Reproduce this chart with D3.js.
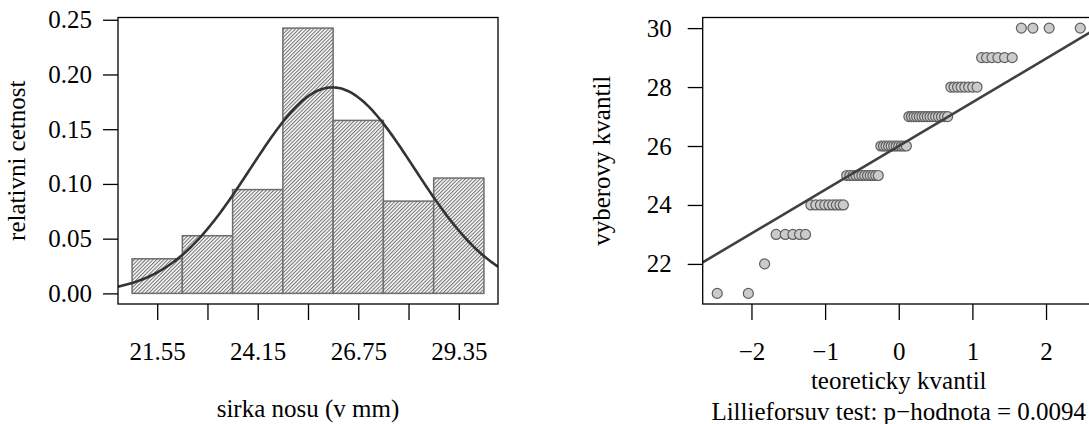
<!DOCTYPE html>
<html>
<head>
<meta charset="utf-8">
<script src="https://cdn.jsdelivr.net/npm/d3@7"></script>
<style>
  body { margin: 0; background: #fff; }
  svg { display: block; overflow: hidden; }
  text { font-family: "Liberation Serif", "Times New Roman", serif; font-size: 25px; fill: #000; }
</style>
</head>
<body>
<div id="chart"></div>
<script>
const W = 1089, H = 424;

// sample: nose width (mm) and how many times each value occurs
const noseValues = [21, 22, 23, 24, 25, 26, 27, 28, 29, 30];
const noseCounts = [2, 1, 5, 9, 12, 11, 15, 8, 6, 4];

// histogram bins
const binEdges = [20.9, 22.2, 23.5, 24.8, 26.1, 27.4, 28.7, 30.0];
const binCounts = [3, 5, 9, 23, 15, 8, 10];

const histTickValues = [21.55, 22.85, 24.15, 25.45, 26.75, 28.05, 29.35];
const histTickLabels = ["21.55", "", "24.15", "", "26.75", "", "29.35"];
const histYTicks = [0, 0.05, 0.10, 0.15, 0.20, 0.25];

const qqXTicks = [-2, -1, 0, 1, 2];
const qqYTicks = [22, 24, 26, 28, 30];
const pValue = "0.0094";

// expand the sample
let sample = [];
noseValues.forEach(function(v, i){
  for (let k = 0; k < noseCounts[i]; k++) sample.push(v);
});
sample.sort(function(a, b){ return a - b; });
const n = sample.length;
const binWidth = binEdges[1] - binEdges[0];
const density = binCounts.map(function(c){ return c / (n * binWidth); });
const mean = d3.mean(sample), sd = d3.deviation(sample);

// inverse normal cdf (Acklam)
function qnorm(p) {
  var a = [-3.969683028665376e+01, 2.209460984245205e+02, -2.759285104469687e+02, 1.383577518672690e+02, -3.066479806614716e+01, 2.506628277459239e+00],
  b = [-5.447609879822406e+01, 1.615858368580409e+02, -1.556989798598866e+02, 6.680131188771972e+01, -1.328068155288572e+01],
  c = [-7.784894002430293e-03, -3.223964580411365e-01, -2.400758277161838e+00, -2.549732539343734e+00, 4.374664141464968e+00, 2.938163982698783e+00],
  d = [7.784695709041462e-03, 3.224671290700398e-01, 2.445134137142996e+00, 3.754408661907416e+00];
  var plow = 0.02425, q, r;
  if (p < plow) {
    q = Math.sqrt(-2 * Math.log(p));
    return (((((c[0]*q+c[1])*q+c[2])*q+c[3])*q+c[4])*q+c[5]) / ((((d[0]*q+d[1])*q+d[2])*q+d[3])*q+1);
  } else if (p <= 1 - plow) {
    q = p - 0.5; r = q * q;
    return (((((a[0]*r+a[1])*r+a[2])*r+a[3])*r+a[4])*r+a[5])*q / (((((b[0]*r+b[1])*r+b[2])*r+b[3])*r+b[4])*r+1);
  }
  q = Math.sqrt(-2 * Math.log(1 - p));
  return -(((((c[0]*q+c[1])*q+c[2])*q+c[3])*q+c[4])*q+c[5]) / ((((d[0]*q+d[1])*q+d[2])*q+d[3])*q+1);
}

function pad(lo, hi) {
  var e = (hi - lo) * 0.04;
  return [lo - e, hi + e];
}

const svg = d3.select("#chart").append("svg").attr("width", W).attr("height", H);

// hatch pattern for the bars
svg.append("defs").append("pattern")
  .attr("id", "hatch")
  .attr("patternUnits", "userSpaceOnUse")
  .attr("width", 2.6).attr("height", 10)
  .attr("patternTransform", "rotate(45)")
  .call(function(p){
    p.append("rect").attr("width", 2.6).attr("height", 10).attr("fill", "#fff");
    p.append("line").attr("x1", 0.6).attr("x2", 0.6).attr("y1", 0).attr("y2", 10)
      .attr("stroke", "#555").attr("stroke-width", 0.9);
  });

// ---------- histogram ----------
const L = { left: 118, right: 498, top: 17.5, bottom: 304 };

const hx = d3.scaleLinear().domain(pad(binEdges[0], binEdges[binEdges.length - 1])).range([L.left, L.right]);
const hy = d3.scaleLinear().domain(pad(0, d3.max(density))).range([L.bottom, L.top]);

svg.append("clipPath").attr("id", "clipL").append("rect")
  .attr("x", L.left).attr("y", L.top).attr("width", L.right - L.left).attr("height", L.bottom - L.top);

const gL = svg.append("g");

gL.selectAll("rect.bar")
  .data(density)
  .join("rect")
  .attr("class", "bar")
  .attr("x", function(d, i){ return hx(binEdges[i]); })
  .attr("y", function(d){ return hy(d); })
  .attr("width", function(d, i){ return hx(binEdges[i + 1]) - hx(binEdges[i]); })
  .attr("height", function(d){ return hy(0) - hy(d); })
  .attr("fill", "url(#hatch)")
  .attr("stroke", "#6e6e6e")
  .attr("stroke-width", 1.5);

// normal density curve across the whole plot
const curveX = d3.range(0, 201).map(function(i){
  var dom = hx.domain();
  return dom[0] + (dom[1] - dom[0]) * i / 200;
});
gL.append("path")
  .datum(curveX)
  .attr("clip-path", "url(#clipL)")
  .attr("fill", "none")
  .attr("stroke", "#333")
  .attr("stroke-width", 2.6)
  .attr("d", d3.line()
    .x(function(v){ return hx(v); })
    .y(function(v){ return hy(Math.exp(-0.5 * Math.pow((v - mean) / sd, 2)) / (sd * Math.sqrt(2 * Math.PI))); }));

gL.append("rect")
  .attr("x", L.left).attr("y", L.top).attr("width", L.right - L.left).attr("height", L.bottom - L.top)
  .attr("fill", "none").attr("stroke", "#000").attr("stroke-width", 1.3);

const axLx = gL.append("g").attr("transform", "translate(0," + L.bottom + ")")
  .call(d3.axisBottom(hx).tickValues(histTickValues)
    .tickFormat(function(d, i){ return histTickLabels[i]; })
    .tickSize(16).tickPadding(22));
const axLy = gL.append("g").attr("transform", "translate(" + L.left + ",0)")
  .call(d3.axisLeft(hy).tickValues(histYTicks)
    .tickFormat(function(d){ return d.toFixed(2); })
    .tickSize(15).tickPadding(11));

gL.append("text")
  .attr("x", (L.left + L.right) / 2).attr("y", 417)
  .attr("text-anchor", "middle")
  .text("sirka nosu (v mm)");
gL.append("text")
  .attr("transform", "translate(25," + (L.top + L.bottom) / 2 + ") rotate(-90)")
  .attr("text-anchor", "middle")
  .text("relativni cetnost");

// ---------- QQ plot ----------
const R = { left: 702.7, right: 1094.8, top: 17.5, bottom: 304 };

const theo = sample.map(function(v, i){ return qnorm((i + 1 - 0.5) / n); });
const qx = d3.scaleLinear().domain(pad(d3.min(theo), d3.max(theo))).range([R.left, R.right]);
const qy = d3.scaleLinear().domain(pad(d3.min(sample), d3.max(sample))).range([R.bottom, R.top]);

svg.append("clipPath").attr("id", "clipR").append("rect")
  .attr("x", R.left).attr("y", R.top).attr("width", R.right - R.left).attr("height", R.bottom - R.top);

const gR = svg.append("g");

// qqline through the quartiles
const q1 = d3.quantile(sample, 0.25), q3 = d3.quantile(sample, 0.75);
const z1 = qnorm(0.25), z3 = qnorm(0.75);
const slope = (q3 - q1) / (z3 - z1), icpt = q1 - slope * z1;
const xd = qx.domain();

gR.selectAll("circle.pt")
  .data(sample)
  .join("circle")
  .attr("class", "pt")
  .attr("clip-path", "url(#clipR)")
  .attr("cx", function(d, i){ return qx(theo[i]); })
  .attr("cy", function(d){ return qy(d); })
  .attr("r", 5)
  .attr("fill", "#cbcbcb")
  .attr("stroke", "#5f5f5f")
  .attr("stroke-width", 1.2);

gR.append("line")
  .attr("clip-path", "url(#clipR)")
  .attr("x1", qx(xd[0])).attr("y1", qy(icpt + slope * xd[0]))
  .attr("x2", qx(xd[1])).attr("y2", qy(icpt + slope * xd[1]))
  .attr("stroke", "#404040")
  .attr("stroke-width", 2.6);

gR.append("rect")
  .attr("x", R.left).attr("y", R.top).attr("width", R.right - R.left).attr("height", R.bottom - R.top)
  .attr("fill", "none").attr("stroke", "#000").attr("stroke-width", 1.3);

const axRx = gR.append("g").attr("transform", "translate(0," + R.bottom + ")")
  .call(d3.axisBottom(qx).tickValues(qqXTicks).tickFormat(d3.format("d")).tickSize(16).tickPadding(22));
const axRy = gR.append("g").attr("transform", "translate(" + R.left + ",0)")
  .call(d3.axisLeft(qy).tickValues(qqYTicks).tickSize(15).tickPadding(16));

gR.append("text")
  .attr("x", (R.left + R.right) / 2).attr("y", 389)
  .attr("text-anchor", "middle")
  .text("teoreticky kvantil");
gR.append("text")
  .attr("x", (R.left + R.right) / 2).attr("y", 420)
  .attr("text-anchor", "middle")
  .text("Lillieforsuv test: p\u2212hodnota = " + pValue);
gR.append("text")
  .attr("transform", "translate(" + (R.left - 93) + "," + (R.top + R.bottom) / 2 + ") rotate(-90)")
  .attr("text-anchor", "middle")
  .text("vyberovy kvantil");

// axis styling: no domain line, R-like ticks
[axLx, axLy, axRx, axRy].forEach(function(ax){
  ax.select(".domain").remove();
  ax.selectAll(".tick line").attr("stroke", "#000").attr("stroke-width", 1.3);
  ax.selectAll(".tick text")
    .style("font-family", "'Liberation Serif', 'Times New Roman', serif")
    .style("font-size", "25px");
});
</script>
</body>
</html>
